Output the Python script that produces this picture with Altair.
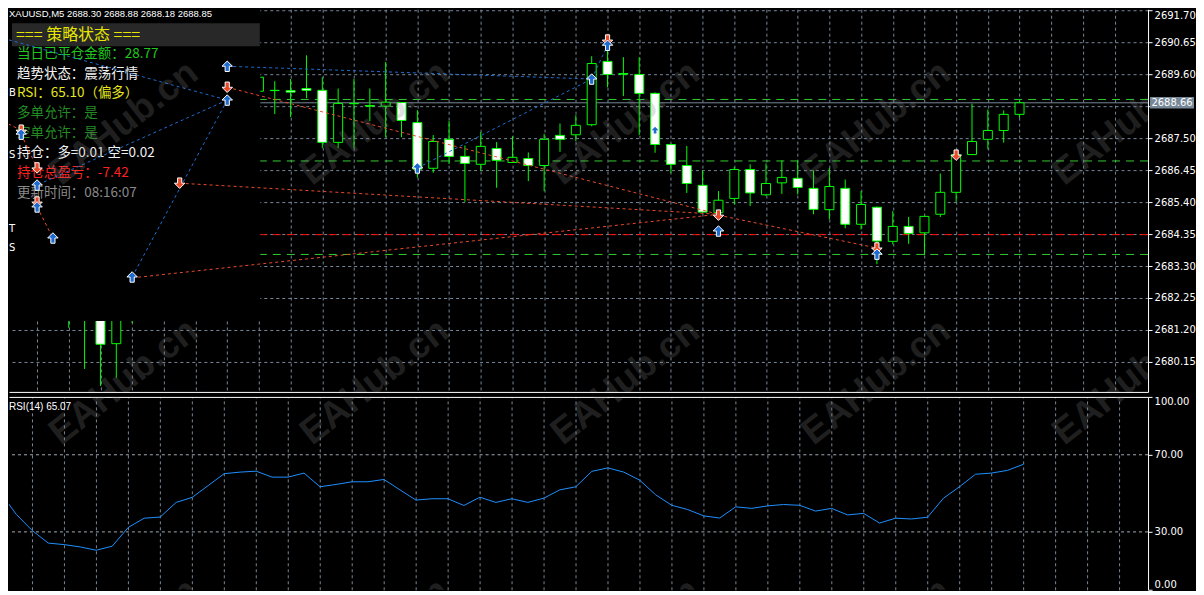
import pandas as pd
import altair as alt

# ---- values (XAUUSD M5) ----
# bar index: one bar every 16 px, bar 0 at the left edge of the window
bar_k = [3, 4, 5, 6, 7,
         15, 16, 17, 18, 19, 20, 21, 22, 23, 24, 25, 26, 27, 28, 29,
         30, 31, 32, 33, 34, 35, 36, 37, 38, 39, 40, 41, 42, 43, 44,
         45, 46, 47, 48, 49, 50, 51, 52, 53, 54, 55, 56, 57, 58, 59,
         60, 61, 62, 63]
bar_open = [2682.30, 2681.80, 2681.90, 2680.75, 2682.20,
            2689.04, 2689.06, 2689.06, 2689.13, 2689.07, 2687.36, 2688.64, 2688.57, 2688.55, 2688.67,
            2688.01, 2686.51, 2687.46, 2686.90, 2686.64,
            2687.16, 2686.70, 2686.83, 2686.60, 2687.59, 2687.61, 2687.94, 2690.02, 2689.62, 2689.59,
            2688.97, 2687.29, 2686.60, 2685.95, 2685.05,
            2685.52, 2686.47, 2685.64, 2686.03, 2686.18, 2685.85, 2685.15, 2685.85, 2684.67, 2685.23,
            2684.11, 2684.60, 2684.39, 2685.00, 2685.72,
            2686.96, 2687.46, 2687.75, 2688.28]
bar_high = [2682.50, 2682.40, 2682.10, 2682.05, 2682.90,
            2689.63, 2689.37, 2689.44, 2690.22, 2689.50, 2689.13, 2689.44, 2689.13, 2690.00, 2688.68,
            2688.42, 2687.60, 2688.06, 2687.26, 2687.70,
            2687.37, 2687.56, 2687.03, 2687.64, 2687.98, 2688.25, 2690.19, 2690.46, 2690.16, 2690.16,
            2689.00, 2687.32, 2687.24, 2686.44, 2685.76,
            2686.55, 2686.64, 2686.67, 2686.77, 2686.75, 2686.44, 2686.52, 2686.14, 2685.76, 2685.25,
            2685.10, 2684.91, 2684.95, 2686.34, 2686.98,
            2688.63, 2688.44, 2688.41, 2688.71]
bar_low = [2681.27, 2679.92, 2679.36, 2679.63, 2681.43,
           2688.88, 2688.29, 2688.19, 2688.81, 2687.18, 2687.18, 2687.18, 2688.06, 2687.53, 2687.53,
           2686.20, 2686.36, 2686.65, 2685.41, 2686.42,
           2685.87, 2686.69, 2686.09, 2685.76, 2687.05, 2687.40, 2687.89, 2689.17, 2688.88, 2687.60,
           2687.02, 2686.36, 2685.70, 2685.05, 2684.88,
           2685.32, 2685.27, 2685.60, 2685.67, 2685.65, 2685.00, 2684.83, 2684.54, 2684.50, 2683.36,
           2684.01, 2684.03, 2683.66, 2684.91, 2685.41,
           2686.94, 2687.13, 2687.35, 2688.17]
bar_close = [2682.00, 2682.20, 2680.73, 2681.85, 2682.60,
             2689.50, 2689.07, 2689.01, 2689.07, 2687.36, 2688.64, 2688.63, 2688.55, 2688.68, 2688.08,
             2686.48, 2687.39, 2686.90, 2686.67, 2687.23,
             2686.77, 2686.87, 2686.60, 2687.46, 2687.46, 2687.92, 2689.95, 2689.59, 2689.60, 2688.97,
             2687.29, 2686.64, 2686.01, 2685.07, 2685.46,
             2686.47, 2685.70, 2686.01, 2686.21, 2685.88, 2685.16, 2685.91, 2684.67, 2685.32, 2684.12,
             2684.60, 2684.37, 2684.93, 2685.72, 2686.96,
             2687.39, 2687.75, 2688.28, 2688.66]

rsi_k = list(range(-1, 64))
rsi_val = [50.4,
           39.1, 30.7, 24.2, 23.4, 22.2, 20.5, 22.6, 32.3, 37.1, 37.7,
           45.3, 47.9, 54.0, 60.2, 61.0, 61.5, 58.4, 58.4, 60.5, 53.4,
           54.6, 56.0, 56.0, 57.2, 51.8, 46.5, 47.2, 47.2, 43.7, 48.0,
           45.3, 47.2, 45.3, 47.5, 51.8, 53.4, 61.4, 63.2, 61.0, 56.8,
           49.2, 43.8, 41.6, 38.3, 37.2, 43.0, 42.2, 43.5, 44.2, 43.8,
           40.8, 42.2, 38.8, 39.6, 34.6, 37.1, 36.7, 37.6, 47.5, 53.4,
           59.9, 60.5, 61.9, 65.07]

# horizontal objects (B / S / T / S) and the bid line
level_tag = ["B", "S", "T", "S"]
level_price = [2688.77, 2686.75, 2684.33, 2683.68]
level_color = ["#32cd32", "#32cd32", "#ff1010", "#32cd32"]
bid_price = 2688.66

# trade history: dotted lines between open and close arrows
trade_k0 = [-1.5, 13, 13, 13, 25, 36, 13, 10, 7, 44, -1.5, 0, 1]
trade_p0 = [2690.83, 2689.86, 2688.75, 2688.75, 2686.52, 2689.44,
            2689.17, 2686.02, 2682.91, 2684.97, 2688.14, 2687.63, 2685.24]
trade_k1 = [13, 36, 7, 1, 36, 37, 44, 44, 44, 54, 0, 1, 2]
trade_p1 = [2688.75, 2689.44, 2682.94, 2685.96, 2689.44, 2690.55,
            2685.00, 2685.00, 2685.00, 2683.89, 2687.76, 2686.52, 2684.22]
trade_side = ["buy"] * 6 + ["sell"] * 7

buy_k = [13, 13, 0, 1, 1, 2, 7, 25, 36, 37, 44, 54]
buy_p = [2689.86, 2688.75, 2687.63, 2685.96, 2685.24, 2684.22, 2682.94,
         2686.52, 2689.44, 2690.55, 2684.45, 2683.69]
sell_k = [13, 0, 1, 1, 10, 44, 54, 59, 37]
sell_p = [2689.17, 2687.76, 2686.52, 2685.40, 2686.02, 2684.97, 2683.89, 2686.94, 2690.72]
small_buy_k = [40]
small_buy_p = [2687.76]

price_ticks = [2680.15, 2681.20, 2682.25, 2683.30, 2684.35, 2685.40,
               2686.45, 2687.50, 2688.55, 2689.60, 2690.65, 2691.70]
rsi_ticks = [0, 30, 70, 100]
rsi_levels = [30, 70]
grid_k = list(range(1, 70, 2))

header = "XAUUSD,M5  2688.30 2688.88 2688.18 2688.85"
panel_title = "=== 策略状态 ==="
info_lines = ["当日已平仓金额：28.77", "趋势状态：震荡行情", "RSI：65.10（偏多）",
              "多单允许：是", "空单允许：是", "持仓：多=0.01 空=0.02",
              "持仓总盈亏：-7.42", "更新时间：08:16:07"]
info_colors = ["#1ec81e", "#f2f2f2", "#e6e61e", "#238b23", "#238b23",
               "#f2f2f2", "#ff2020", "#8a8a8a"]

# ---- styling ----
W, H_MAIN, H_RSI = 1140, 383, 193
GRID = "#778899"
GREEN = "#00ff00"
BLUE = "#1f6cd0"
RED = "#ea4a2a"
CJK = "Noto Sans CJK SC"
UP = "M0,-1 L1,0 L0.4,0 L0.4,1 L-0.4,1 L-0.4,0 L-1,0 Z"
DOWN = "M0,1 L1,0 L0.4,0 L0.4,-1 L-0.4,-1 L-0.4,0 L-1,0 Z"
TAG = "M-1,-0.26 L1,-0.26 L1,0.26 L-1,0.26 Z"

x_scale = alt.Scale(domain=[-0.456, 70.794], nice=False, zero=False)
p_scale = alt.Scale(domain=[2679.165, 2691.7325], nice=False, zero=False)

main_x_axis = alt.Axis(orient="bottom", values=grid_k, grid=True, gridColor=GRID,
                       gridDash=[3, 3], labels=False, ticks=False,
                       domainColor="white")
# the 2688.55 label sits under the bid price tag, so it is left blank
price_axis = alt.Axis(orient="right", values=price_ticks, grid=True,
                      labelExpr="abs(datum.value - 2688.55) < 0.001 ? '' : format(datum.value, '.2f')",
                      gridColor=GRID, gridDash=[3, 3], domainColor="white",
                      tickColor="white", tickSize=4, labelColor="white",
                      labelFont="DejaVu Sans", labelFontSize=10, labelPadding=2,
                      labelFlush=3)


def xk(field, axis=main_x_axis):
    return alt.X(f"{field}:Q", scale=x_scale, title=None, axis=axis)


def py(field):
    return alt.Y(f"{field}:Q", scale=p_scale, title=None, axis=price_axis)


one = pd.DataFrame({"a": [0]})

candles = pd.DataFrame({"k": bar_k, "open": bar_open, "high": bar_high,
                        "low": bar_low, "close": bar_close})
candles["dir"] = ["up" if c >= o else "down" for o, c in zip(bar_open, bar_close)]
levels = pd.DataFrame({"price": level_price, "col": level_color, "tag": level_tag})
trades = pd.DataFrame({"k0": trade_k0, "p0": trade_p0, "k1": trade_k1, "p1": trade_p1,
                       "col": [BLUE if s == "buy" else RED for s in trade_side]})
buys = pd.DataFrame({"k": buy_k, "price": buy_p})
sells = pd.DataFrame({"k": sell_k, "price": sell_p})
small_buys = pd.DataFrame({"k": small_buy_k, "price": small_buy_p})
bid = pd.DataFrame({"price": [bid_price], "label": [f"{bid_price:.2f}"]})
rsi = pd.DataFrame({"k": rsi_k, "rsi": rsi_val})

WM_X = [115, 366, 617, 868, 1119]


def watermarks(rows):
    out = []
    for wy in rows:
        for wx in WM_X:
            out.append(alt.Chart(one).mark_text(
                text="EAHub.cn", font="Liberation Sans", fontWeight="bold",
                fontSize=37, angle=322, color="#808080", opacity=0.24,
                align="center", baseline="middle", clip=True
            ).encode(x=alt.value(wx), y=alt.value(wy)))
    return out


# ---- main price panel ----
layers = []
layers.append(alt.Chart(levels).mark_rule(strokeDash=[8, 6], strokeWidth=1).encode(
    y=py("price"), color=alt.Color("col:N", scale=None)))
layers.append(alt.Chart(bid).mark_rule(color=GRID, strokeWidth=1).encode(y=py("price")))
layers.append(alt.Chart(candles).mark_rule(color=GREEN, strokeWidth=1).encode(
    x=xk("k"), y=py("high"), y2="low:Q"))
layers.append(alt.Chart(candles).mark_bar(size=9, stroke=GREEN, strokeWidth=1).encode(
    x=xk("k"), y=py("open"), y2="close:Q",
    fill=alt.Fill("dir:N", scale=alt.Scale(domain=["up", "down"], range=["black", "white"]),
                  legend=None)))

# strategy info panel drawn by the EA
layers.append(alt.Chart(one).mark_rect(color="black").encode(
    x=alt.value(0), x2=alt.value(251.5), y=alt.value(0), y2=alt.value(312)))
layers.append(alt.Chart(one).mark_rect(color="#282828").encode(
    x=alt.value(3), x2=alt.value(251), y=alt.value(14), y2=alt.value(37)))
layers.append(alt.Chart(one).mark_text(
    text=header, font="Liberation Sans", fontSize=9.5, color="white",
    align="left", baseline="middle").encode(x=alt.value(0), y=alt.value(4.5)))
layers.append(alt.Chart(one).mark_text(
    text=panel_title, font=CJK, fontSize=16, color="#e6e600",
    align="left", baseline="middle").encode(x=alt.value(7), y=alt.value(26)))
for i, (line, col) in enumerate(zip(info_lines, info_colors)):
    layers.append(alt.Chart(one).mark_text(
        text=line, font=CJK, fontSize=13.5, color=col,
        align="left", baseline="middle").encode(x=alt.value(8), y=alt.value(44.5 + 19.85 * i)))

layers.append(alt.Chart(levels).mark_text(
    font="DejaVu Sans", fontSize=10, color="white", align="left",
    baseline="bottom", dy=-1).encode(
    x=alt.value(0), y=py("price"), text="tag:N"))

layers.append(alt.Chart(trades).mark_rule(strokeDash=[3, 3], strokeWidth=1, clip=True).encode(
    x=xk("k0"), x2="k1:Q", y=py("p0"), y2="p1:Q", color=alt.Color("col:N", scale=None)))
layers.append(alt.Chart(sells).mark_point(
    shape=DOWN, filled=True, size=110, color=RED, stroke="white", strokeWidth=1,
    opacity=1).encode(x=xk("k"), y=py("price")))
layers.append(alt.Chart(buys).mark_point(
    shape=UP, filled=True, size=110, color=BLUE, stroke="white", strokeWidth=1,
    opacity=1).encode(x=xk("k"), y=py("price")))
layers.append(alt.Chart(small_buys).mark_point(
    shape=UP, filled=True, size=45, color=BLUE, opacity=1).encode(x=xk("k"), y=py("price")))

layers.append(alt.Chart(bid).mark_point(
    shape=TAG, filled=True, size=1936, color=GRID, opacity=1).encode(
    x=alt.value(W + 24), y=py("price")))
layers.append(alt.Chart(bid).mark_text(
    font="DejaVu Sans", fontSize=10, color="white", align="center",
    baseline="middle").encode(x=alt.value(W + 24), y=py("price"), text="label:N"))
layers += watermarks([114, 372])

main = alt.layer(*layers).properties(width=W, height=H_MAIN)

# ---- RSI panel ----
rsi_x_axis = alt.Axis(orient="top", values=grid_k, grid=True, gridColor=GRID,
                      gridDash=[3, 3], labels=False, ticks=False, domainColor="white")
rsi_y = alt.Y("rsi:Q", scale=alt.Scale(domain=[0, 100], nice=False), title=None,
              axis=alt.Axis(orient="right", values=rsi_ticks, format=".2f", grid=False,
                            domainColor="white", tickColor="white", tickSize=4,
                            labelColor="white", labelFont="DejaVu Sans", labelFontSize=10,
                            labelPadding=2, labelFlush=True))

rsi_layers = [
    alt.Chart(pd.DataFrame({"rsi": rsi_levels})).mark_rule(
        color="#a3abb3", strokeDash=[3, 3], strokeWidth=1).encode(y=rsi_y),
    alt.Chart(rsi).mark_line(color="#1e90ff", strokeWidth=1, clip=True).encode(
        x=xk("k", rsi_x_axis), y=rsi_y),
    alt.Chart(one).mark_text(
        text="RSI(14) 65.07", font="Liberation Sans", fontSize=10, color="white",
        align="left", baseline="middle").encode(x=alt.value(0), y=alt.value(10)),
]
rsi_layers += watermarks([-14, 244])

rsi_panel = alt.layer(*rsi_layers).properties(width=W, height=H_RSI)

chart = alt.vconcat(main, rsi_panel, spacing=3).properties(
    background="black", padding=0
).configure_view(stroke="transparent")

chart.save("out.html", embed_options={"renderer": "svg", "actions": False})
